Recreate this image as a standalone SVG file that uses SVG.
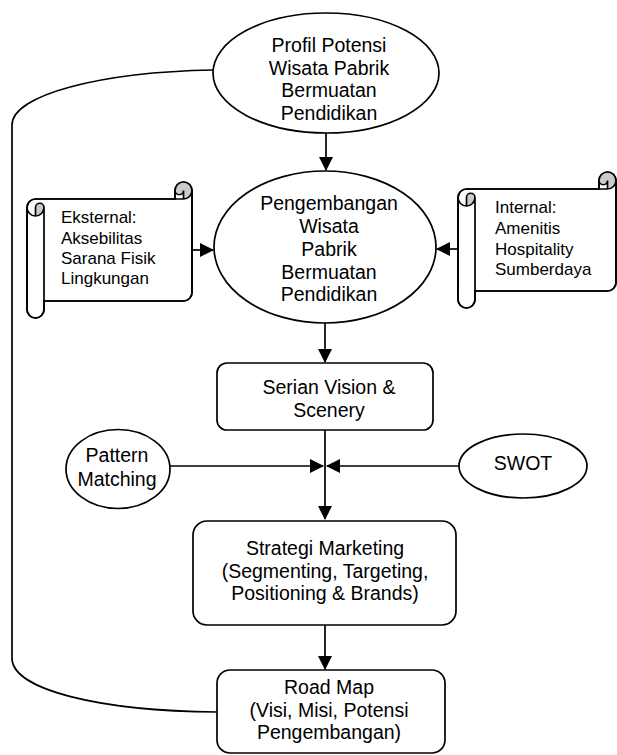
<svg xmlns="http://www.w3.org/2000/svg" width="617" height="755" viewBox="0 0 617 755">
<style>
.s{fill:#fff;stroke:#000;stroke-width:1.7}
.n{fill:none;stroke:#000;stroke-width:1.7}
.g{fill:#cbcbcb;stroke:none}
.c{fill:none;stroke:#000;stroke-width:1.7}
.a{marker-end:url(#ah)}
text{font-family:"Liberation Sans",Arial,sans-serif;font-size:19.5px;fill:#000}
.m{text-anchor:middle}
.sm{font-size:17px}
</style>
<defs>
<marker id="ah" viewBox="0 0 14 14" refX="13" refY="7" markerWidth="14" markerHeight="14" markerUnits="userSpaceOnUse" orient="auto">
<path d="M0,0 L14,7 L0,14 Z" fill="#000"/>
</marker>
</defs>
<rect width="617" height="755" fill="#fff"/>
<g id="connectors">
<path class="c" d="M213,70 C100,72 12,95 12,125 L12,658 C12,690 100,711 217,712"/>
<path class="c a" d="M326,133 L326,170"/>
<path class="c a" d="M192,250 L213,250"/>
<path class="c a" d="M458,249 L437,249"/>
<path class="c a" d="M325,323 L325,362"/>
<path class="c a" d="M325,430 L325,519"/>
<path class="c a" d="M170,466 L323,466"/>
<path class="c a" d="M459,466 L327,466"/>
<path class="c a" d="M325,625 L325,669"/>
</g>
<g id="profil">
<ellipse class="s" cx="326" cy="73" rx="113" ry="60"/>
<text class="m" x="329" y="52">Profil Potensi</text>
<text class="m" x="329" y="74.5">Wisata Pabrik</text>
<text class="m" x="329" y="97">Bermuatan</text>
<text class="m" x="329" y="119.5">Pendidikan</text>
</g>
<g id="pengembangan">
<ellipse class="s" cx="325" cy="247" rx="111" ry="76"/>
<text class="m" x="329" y="210">Pengembangan</text>
<text class="m" x="329" y="233">Wisata</text>
<text class="m" x="329" y="256">Pabrik</text>
<text class="m" x="329" y="278.5">Bermuatan</text>
<text class="m" x="329" y="301">Pendidikan</text>
</g>
<g id="eksternal">
<path class="s" d="M27,207.5 A8.5,8.5 0 0 1 35.5,199 L175,199 L175,190.5 A8.5,8.5 0 0 1 192,190.5 L192,292.5 A8.5,8.5 0 0 1 183.5,301 L44,301 L44,309.5 A8.5,8.5 0 0 1 27,309.5 Z"/>
<path class="g" d="M35.5,216 A8.5,8.5 0 0 0 44,207.5 A4.25,4.25 0 0 0 35.5,207.5 Z"/>
<path class="g" d="M183.5,199 A8.5,8.5 0 1 0 175,190.5 A4.25,4.25 0 0 0 183.5,190.5 Z"/>
<path class="n" d="M27,207.5 A8.5,8.5 0 0 1 35.5,199 L175,199 L175,190.5 A8.5,8.5 0 0 1 192,190.5 L192,292.5 A8.5,8.5 0 0 1 183.5,301 L44,301 L44,309.5 A8.5,8.5 0 0 1 27,309.5 Z M175,199 L183.5,199 A8.5,8.5 0 0 0 192,190.5 M183.5,199 L183.5,190.5 A4.25,4.25 0 0 1 175,190.5 M35.5,216 L35.5,207.5 A4.25,4.25 0 0 1 44,207.5 A8.5,8.5 0 0 1 27,207.5 M44,207.5 L44,301"/>
<text class="sm" x="61" y="223">Eksternal:</text>
<text class="sm" x="61" y="243.5">Aksebilitas</text>
<text class="sm" x="61" y="264">Sarana Fisik</text>
<text class="sm" x="61" y="284">Lingkungan</text>
</g>
<g id="internal">
<path class="s" d="M458,197.5 A8.5,8.5 0 0 1 466.5,189 L599,189 L599,180.5 A8.5,8.5 0 0 1 616,180.5 L616,282.5 A8.5,8.5 0 0 1 607.5,291 L475,291 L475,299.5 A8.5,8.5 0 0 1 458,299.5 Z"/>
<path class="g" d="M466.5,206 A8.5,8.5 0 0 0 475,197.5 A4.25,4.25 0 0 0 466.5,197.5 Z"/>
<path class="g" d="M607.5,189 A8.5,8.5 0 1 0 599,180.5 A4.25,4.25 0 0 0 607.5,180.5 Z"/>
<path class="n" d="M458,197.5 A8.5,8.5 0 0 1 466.5,189 L599,189 L599,180.5 A8.5,8.5 0 0 1 616,180.5 L616,282.5 A8.5,8.5 0 0 1 607.5,291 L475,291 L475,299.5 A8.5,8.5 0 0 1 458,299.5 Z M599,189 L607.5,189 A8.5,8.5 0 0 0 616,180.5 M607.5,189 L607.5,180.5 A4.25,4.25 0 0 1 599,180.5 M466.5,206 L466.5,197.5 A4.25,4.25 0 0 1 475,197.5 A8.5,8.5 0 0 1 458,197.5 M475,197.5 L475,291"/>
<text class="sm" x="495" y="213">Internal:</text>
<text class="sm" x="495" y="234">Amenitis</text>
<text class="sm" x="495" y="254.5">Hospitality</text>
<text class="sm" x="495" y="275">Sumberdaya</text>
</g>
<g id="serian">
<rect class="s" x="217" y="363" width="216" height="67" rx="10"/>
<text class="m" x="329" y="394">Serian Vision &amp;</text>
<text class="m" x="329" y="416.5">Scenery</text>
</g>
<g id="pattern">
<ellipse class="s" cx="118" cy="469" rx="52" ry="39.5"/>
<text class="m" x="117" y="462">Pattern</text>
<text class="m" x="117" y="485.5">Matching</text>
</g>
<g id="swot">
<ellipse class="s" cx="523" cy="466" rx="64" ry="32"/>
<text class="m" x="523" y="470">SWOT</text>
</g>
<g id="strategi">
<rect class="s" x="193" y="521" width="263" height="104" rx="14"/>
<text class="m" x="325" y="555">Strategi Marketing</text>
<text class="m" x="325" y="577.5">(Segmenting, Targeting,</text>
<text class="m" x="325" y="599.5">Positioning &amp; Brands)</text>
</g>
<g id="roadmap">
<rect class="s" x="217" y="670" width="228" height="83" rx="13"/>
<text class="m" x="329" y="693.5">Road Map</text>
<text class="m" x="329" y="716.5">(Visi, Misi, Potensi</text>
<text class="m" x="329" y="739">Pengembangan)</text>
</g>
</svg>
